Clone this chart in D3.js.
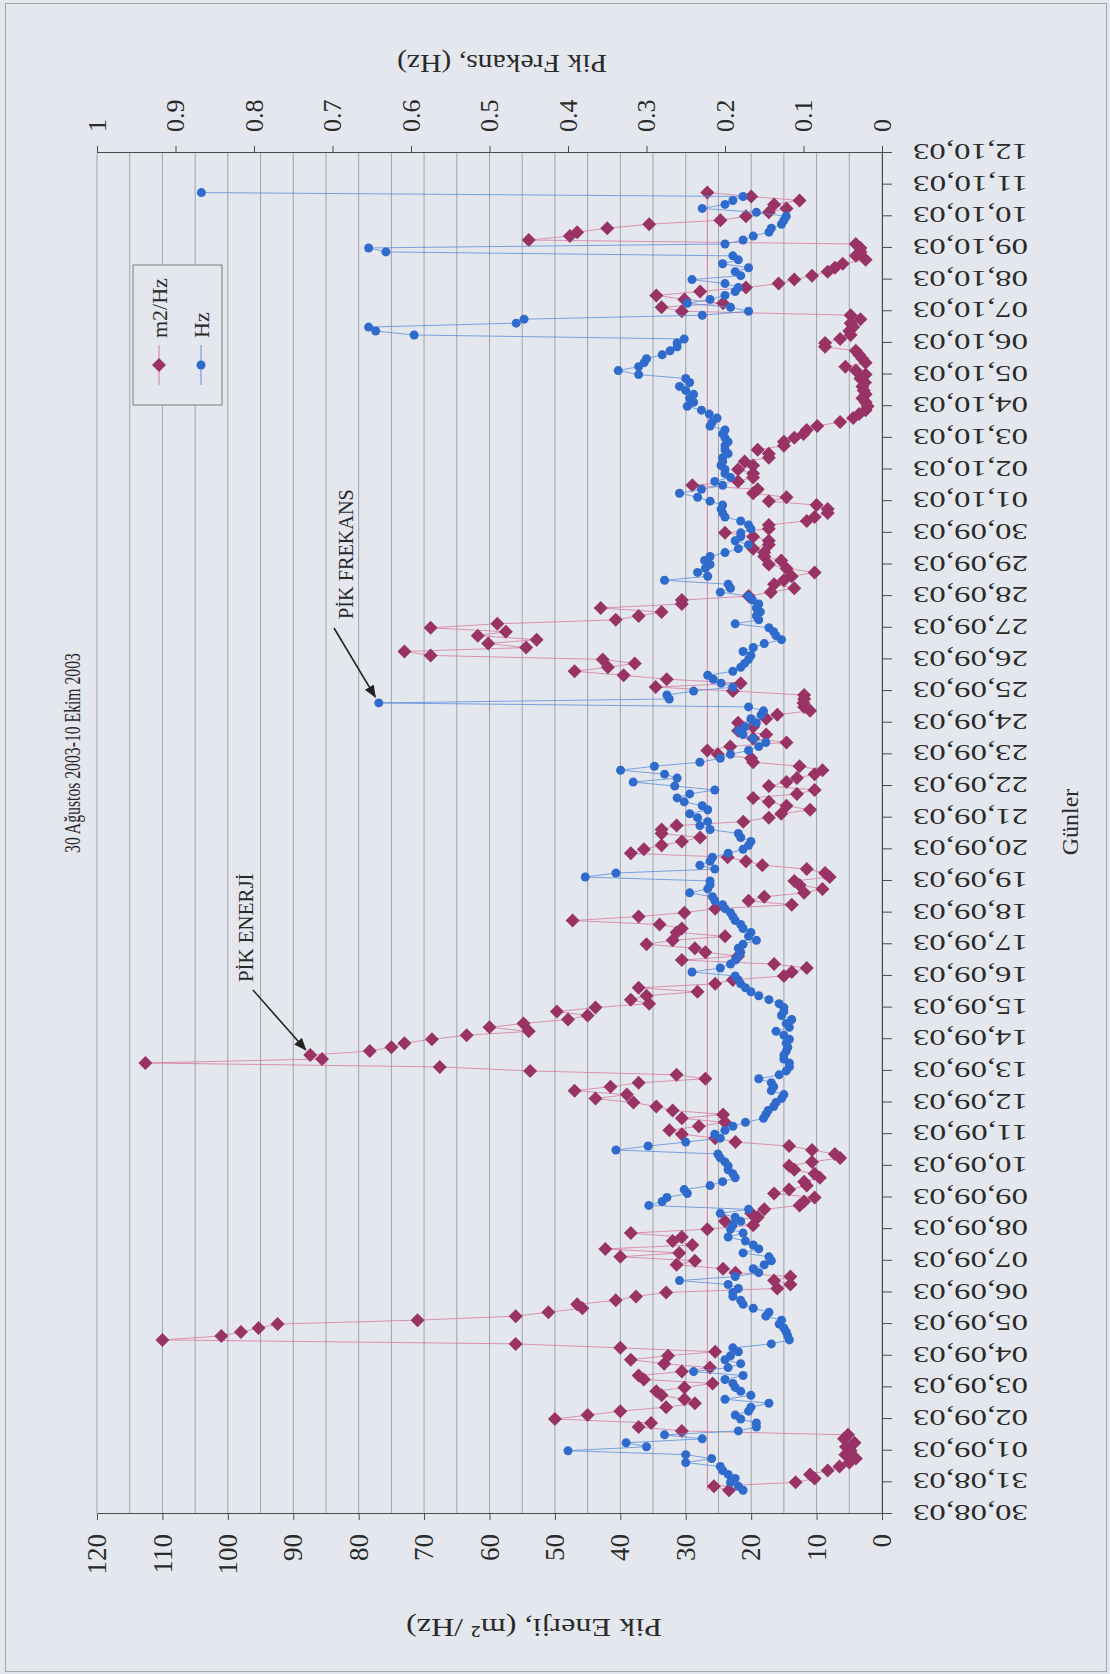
<!DOCTYPE html>
<html>
<head>
<meta charset="utf-8">
<script src="https://cdnjs.cloudflare.com/ajax/libs/d3/7.8.5/d3.min.js"></script>
<style>
body { margin: 0; background: #e4e8ee; }
svg text { font-family: "Liberation Serif", "Times New Roman", serif; fill: #2a2a2a; }
</style>
</head>
<body>
<div id="chart"></div>
<script>
// one label per day, 30.08.03 .. 12.10.03
var dayLabels = [
  "30,08,03", "31,08,03",
  "01,09,03", "02,09,03", "03,09,03", "04,09,03", "05,09,03", "06,09,03", "07,09,03", "08,09,03", "09,09,03", "10,09,03",
  "11,09,03", "12,09,03", "13,09,03", "14,09,03", "15,09,03", "16,09,03", "17,09,03", "18,09,03", "19,09,03", "20,09,03",
  "21,09,03", "22,09,03", "23,09,03", "24,09,03", "25,09,03", "26,09,03", "27,09,03", "28,09,03", "29,09,03", "30,09,03",
  "01,10,03", "02,10,03", "03,10,03", "04,10,03", "05,10,03", "06,10,03", "07,10,03", "08,10,03", "09,10,03", "10,10,03",
  "11,10,03", "12,10,03"
]
var energyTicks = [0, 10, 20, 30, 40, 50, 60, 70, 80, 90, 100, 110, 120]
var freqTicks = [0, 0.1, 0.2, 0.3, 0.4, 0.5, 0.6, 0.7, 0.8, 0.9, 1]

// readings every 3 hours, first one 30.08 18:00
var firstReading = 0.75, readingStep = 0.125

// peak energy, m2/Hz (one row per day)
var energy = [
  23.4, 25.7,
  13.2, 10.3, 11, 8.3, 6.5, 5, 4, 5.6,
  4.8, 5.5, 4.2, 5.8, 5.2, 30.6, 37.2, 35.3,
  50, 45, 40, 33, 28.6, 30.2, 33.7, 34.5,
  30.2, 25.9, 36.4, 37.2, 30.6, 26.3, 33.3, 38.4,
  32.7, 25.5, 40, 56, 110, 101, 98, 95.3,
  92.4, 71, 56, 51, 45.8, 46.6, 40.7, 37.6,
  33, 16, 14, 16.5, 14, 22.4, 24.3, 31.4,
  28.6, 40, 31, 42.3, 29, 32, 30.6, 38.4,
  26.7, 19.7, 24, 19, 20, 18, 12.6, 11.9,
  10.3, 16.5, 14.2, 11.5, 11.9, 9.5, 10.3, 13.4,
  14.2, 10.7, 6.4, 7.2, 10.7, 14.2, 22.4, 25.5,
  30.6, 32.5, 28, 24, 30.6, 24.3, 32, 34.5,
  38, 43.8, 39, 47, 41.5, 37.2, 27, 31.4,
  53.8, 67.6, 112.6, 85.6, 87.4, 78.3, 75, 73,
  68.8, 63.5, 54, 60, 54.8, 48, 45, 49.7,
  43.8, 35.6, 38.4, 36, 28.2, 37.2, 25.5, 22.8,
  15, 13.8, 11.5, 16.5, 30.6, 22, 27, 28.6,
  36, 32, 24, 31.4, 30.6, 34, 47.3, 37.2,
  30.2, 25.5, 13.8, 20.4, 18, 11.9, 9.1, 12.6,
  13.4, 8, 8.7, 11.5, 18.3, 20.8, 23.6, 38.4,
  36.4, 33.7, 30.6, 27.8, 33.7, 33.7, 31.4, 21.2,
  17.3, 15.4, 11, 14.6, 17.3, 19.7, 13, 10.3,
  17.3, 14.6, 13, 10.3, 9.1, 12.6, 19.7, 20,
  25.1, 26.7, 23.2, 14.6, 19.7, 17.7, 22, 19.7,
  22, 17.7, 16, 11, 11.9, 12, 11.9, 11.9,
  22.8, 34.6, 21.6, 32.9, 39.5, 47, 41.9, 37.8,
  42.7, 69, 73, 54.4, 60.2, 52.8, 61.8, 57.5,
  69, 58.8, 40.7, 37.2, 33.7, 43, 30.6, 30.6,
  20.4, 17, 13.4, 16.5, 15, 13.8, 10.3, 14.6,
  17.3, 15.4, 18, 18, 19.7, 17.3, 17.3, 19.7,
  24, 17.3, 17.3, 11.5, 10.3, 8.3, 8.3, 10,
  17.3, 14.6, 19.7, 19, 29, 22, 19.7, 19.7,
  22, 19.7, 21, 17.3, 17.3, 19, 15, 15,
  13.4, 12, 11.5, 9.9, 6.4, 4.4, 3.5, 2.5,
  2.2, 2.5, 3, 2.5, 2.8, 3, 2.6, 3.3,
  2.5, 4, 5.6, 2.5, 3, 3.5, 4, 8.7,
  8.7, 6.4, 4.8, 5, 4.4, 4.8, 3.3, 4.8,
  30.6, 33.7, 24.3, 30.2, 34.5, 27.8, 20.8, 15.8,
  13.4, 10.7, 8.3, 7.2, 6, 2.5, 4, 3.3,
  3.3, 4, 54, 47.7, 46.6, 42, 35.6, 24.7,
  20.8, 17.3, 14.6, 16.5, 12.6, 20, 26.7
]

// peak frequency, Hz
var freq = [
  .177, .183,
  .193, .187, .196, .203, .206, .25, .217, .25,
  .40, .30, .326, .229, .277, .183, .16, .16,
  .18, .187, .17, .167, .144, .2, .167, .18,
  .187, .19, .2, .177, .24, .196, .18, .2,
  .193, .183, .19, .141, .118, .12, .122, .125,
  .131, .128, .148, .144, .164, .177, .18, .19,
  .19, .183, .196, .258, .187, .157, .164, .15,
  .141, .144, .177, .157, .164, .174, .196, .177,
  .193, .19, .18, .187, .206, .17, .297, .28,
  .274, .248, .252, .219, .203, .187, .19, .196,
  .196, .2, .206, .209, .339, .298, .25, .206,
  .213, .2, .19, .174, .151, .148, .145, .138,
  .135, .128, .125, .141, .138, .141, .157, .131,
  .122, .118, .118, .125, .125, .122, .12, .122,
  .118, .125, .135, .118, .122, .115, .128, .125,
  .125, .131, .144, .157, .167, .174, .18, .183,
  .187, .242, .206, .193, .187, .183, .18, .183,
  .177, .16, .17, .167, .177, .18, .187, .19,
  .193, .2, .203, .213, .216, .245, .222, .219,
  .219, .378, .339, .213, .232, .219, .216, .196,
  .177, .17, .167, .18, .183, .219, .232, .222,
  .235, .245, .222, .229, .252, .261, .245, .213,
  .264, .317, .261, .277, .333, .29, .232, .206,
  .193, .17, .157, .148, .164, .177, .183, .174,
  .16, .167, .154, .151, .17, .641, .271, .274,
  .24, .19, .205, .215, .222, .19, .18, .175,
  .17, .167, .177, .164, .15, .128, .135, .138,
  .144, .187, .157, .16, .155, .16, .157, .165,
  .17, .206, .193, .196, .277, .222, .235, .225,
  .219, .226, .219, .2, .183, .17, .187, .18,
  .18, .167, .17, .18, .2, .203, .205, .203,
  .219, .235, .258, .23, .203, .213, .193, .2,
  .2, .205, .203, .203, .196, .2, .2, .196,
  .2, .203, .2, .219, .216, .21, .22, .23,
  .248, .24, .245, .24, .25, .258, .245, .25,
  .31, .336, .31, .303, .3, .28, .27, .261,
  .261, .252, .596, .645, .654, .466, .456, .229,
  .17, .193, .248, .219, .2, .187, .183, .2,
  .242, .18, .187, .17, .203, .183, .19, .632,
  .654, .2, .177, .164, .144, .141, .128, .125,
  .122, .16, .229, .2, .19, .177, .867
]

var refLine = 26.7          // thin red line across the plot, m2/Hz
var energyPeakDay = 14.5    // reading the PİK ENERJİ arrow points at
var freqPeakDay = 25.625    // reading the PİK FREKANS arrow points at

var W = 1110, H = 1674
var times = energy.map(function (e, i) { return firstReading + i * readingStep })

var svg = d3.select("#chart").append("svg")
  .attr("width", W)
  .attr("height", H)

svg.append("rect").attr("width", W).attr("height", H).attr("fill", "#e4e8ee")
svg.append("rect")
  .attr("x", 5.5).attr("y", 3.5).attr("width", W - 9).attr("height", H - 6)
  .attr("fill", "none").attr("stroke", "#a3a7ac")

svg.append("defs").append("marker")
  .attr("id", "arr")
  .attr("viewBox", "0 0 10 10")
  .attr("refX", 9).attr("refY", 5)
  .attr("markerWidth", 8).attr("markerHeight", 8)
  .attr("orient", "auto")
  .append("path").attr("d", "M0,1L10,5L0,9Z").attr("fill", "#222")

// the chart is laid out normally and then turned a quarter turn
var g = svg.append("g").attr("transform", "translate(0," + H + ") rotate(-90)")

var x = d3.scaleLinear().domain([0, dayLabels.length - 1]).range([160, 1521])
var yE = d3.scaleLinear().domain([0, 120]).range([882, 97])
var yF = d3.scaleLinear().domain([0, 1]).range([882, 97])

// gridlines
g.append("g").selectAll("line")
  .data(d3.range(0, 121, 5))
  .join("line")
  .attr("x1", x.range()[0]).attr("x2", x.range()[1])
  .attr("y1", function (d) { return yE(d) }).attr("y2", function (d) { return yE(d) })
  .attr("stroke", "#8e9297").attr("stroke-width", 0.8)

g.append("line")
  .attr("x1", x(times[0])).attr("x2", x(times[times.length - 1]))
  .attr("y1", yE(refLine)).attr("y2", yE(refLine))
  .attr("stroke", "#cf5a7c").attr("stroke-width", 1).attr("opacity", 0.75)

// axes
var serif = "Liberation Serif, Times New Roman, serif"

var xAxis = g.append("g")
  .attr("transform", "translate(0," + yE(0) + ")")
  .call(d3.axisBottom(x)
    .tickValues(d3.range(dayLabels.length))
    .tickFormat(function (i) { return dayLabels[i] })
    .tickSize(10).tickSizeOuter(0))
  .attr("font-family", serif)
xAxis.selectAll("text")
  .attr("transform", "rotate(-90)")
  .attr("x", -31).attr("y", 0).attr("dy", "0.35em")
  .attr("text-anchor", "end")
  .attr("font-size", 24)
  .attr("textLength", 115).attr("lengthAdjust", "spacingAndGlyphs")

var eAxis = g.append("g")
  .attr("transform", "translate(" + x.range()[0] + ",0)")
  .call(d3.axisLeft(yE).tickValues(energyTicks).tickSize(6).tickPadding(14).tickSizeOuter(0))
  .attr("font-family", serif)
eAxis.selectAll("text").attr("font-size", 27)

var fAxis = g.append("g")
  .attr("transform", "translate(" + x.range()[1] + ",0)")
  .call(d3.axisRight(yF).tickValues(freqTicks)
    .tickFormat(function (d) { return d === 0 ? "0" : d === 1 ? "1" : d.toFixed(1) })
    .tickSize(7).tickPadding(14).tickSizeOuter(0))
  .attr("font-family", serif)
fAxis.selectAll("text").attr("font-size", 26)

g.selectAll(".domain, .tick line").attr("stroke", "#4a4a4a")

// series
var eLine = d3.line()
  .x(function (d, i) { return x(times[i]) })
  .y(function (d) { return yE(d) })
var fLine = d3.line()
  .x(function (d, i) { return x(times[i]) })
  .y(function (d) { return yF(d) })

var diamond = "M0,-7L7,0L0,7L-7,0Z"

g.append("path").datum(energy)
  .attr("d", eLine)
  .attr("fill", "none").attr("stroke", "#d77a9e").attr("stroke-width", 1).attr("opacity", 0.8)

g.append("g").selectAll("path")
  .data(energy)
  .join("path")
  .attr("d", diamond)
  .attr("transform", function (d, i) { return "translate(" + x(times[i]) + "," + yE(d) + ")" })
  .attr("fill", "#993366")

g.append("path").datum(freq)
  .attr("d", fLine)
  .attr("fill", "none").attr("stroke", "#5b8ddb").attr("stroke-width", 1).attr("opacity", 0.8)

g.append("g").selectAll("circle")
  .data(freq)
  .join("circle")
  .attr("cx", function (d, i) { return x(times[i]) })
  .attr("cy", function (d) { return yF(d) })
  .attr("r", 4.5)
  .attr("fill", "#2f6bcc")

// titles (narrow serif, so squeezed sideways)
g.append("text")
  .attr("transform", "translate(921,72) scale(0.655,1)")
  .attr("dy", "0.35em")
  .attr("text-anchor", "middle")
  .style("font-size", "24px")
  .text("30 Ağustos 2003-10 Ekim 2003")

g.append("text")
  .attr("x", 852).attr("y", 1070).attr("dy", "0.35em")
  .attr("text-anchor", "middle").attr("font-size", 24)
  .text("Günler")

g.append("text")
  .attr("transform", "translate(46,534) rotate(-90)")
  .attr("dy", "0.35em").attr("text-anchor", "middle").attr("font-size", 26)
  .attr("textLength", 256).attr("lengthAdjust", "spacingAndGlyphs")
  .text("Pik Enerji, (m² /Hz)")

g.append("text")
  .attr("transform", "translate(1610,502) rotate(-90)")
  .attr("dy", "0.35em").attr("text-anchor", "middle").attr("font-size", 26)
  .attr("textLength", 210).attr("lengthAdjust", "spacingAndGlyphs")
  .text("Pik Frekans, (Hz)")

// legend
var lg = g.append("g")
lg.append("rect")
  .attr("x", 1269).attr("y", 133).attr("width", 140).attr("height", 89)
  .attr("fill", "#e4e8ee").attr("stroke", "#7a7d80")
var items = [
  { name: "m2/Hz", v: 159, line: "#d77a9e", color: "#993366", dia: true },
  { name: "Hz", v: 201, line: "#5b8ddb", color: "#2f6bcc", dia: false }
]
items.forEach(function (it) {
  lg.append("line").attr("x1", 1289).attr("x2", 1329).attr("y1", it.v).attr("y2", it.v)
    .attr("stroke", it.line).attr("stroke-width", 1)
  if (it.dia) {
    lg.append("path").attr("d", diamond).attr("transform", "translate(1309," + it.v + ")").attr("fill", it.color)
  } else {
    lg.append("circle").attr("cx", 1309).attr("cy", it.v).attr("r", 4.5).attr("fill", it.color)
  }
  lg.append("text").attr("x", 1336).attr("y", it.v).attr("dy", "0.35em").attr("font-size", 22).text(it.name)
})

// annotations
function pointer(label, px, py, tail, textAt, sx) {
  var dx = tail[0] - px, dy = tail[1] - py
  var k = Math.sqrt(dx * dx + dy * dy)
  g.append("line")
    .attr("x1", tail[0]).attr("y1", tail[1])
    .attr("x2", px + dx / k * 7).attr("y2", py + dy / k * 7)
    .attr("stroke", "#222").attr("stroke-width", 1.6)
    .attr("marker-end", "url(#arr)")
  g.append("text")
    .attr("transform", "translate(" + textAt[0] + "," + textAt[1] + ") scale(" + sx + ",1)")
    .attr("dy", "0.35em")
    .attr("font-size", 22)
    .text(label)
}
var iE = Math.round((energyPeakDay - firstReading) / readingStep)
var iF = Math.round((freqPeakDay - firstReading) / readingStep)
pointer("PİK ENERJİ", x(times[iE]), yE(energy[iE]), [684, 253], [692, 245], 0.95)
pointer("PİK FREKANS", x(times[iF]), yF(freq[iF]), [1046, 334], [1055, 345], 0.92)
</script>
</body>
</html>
